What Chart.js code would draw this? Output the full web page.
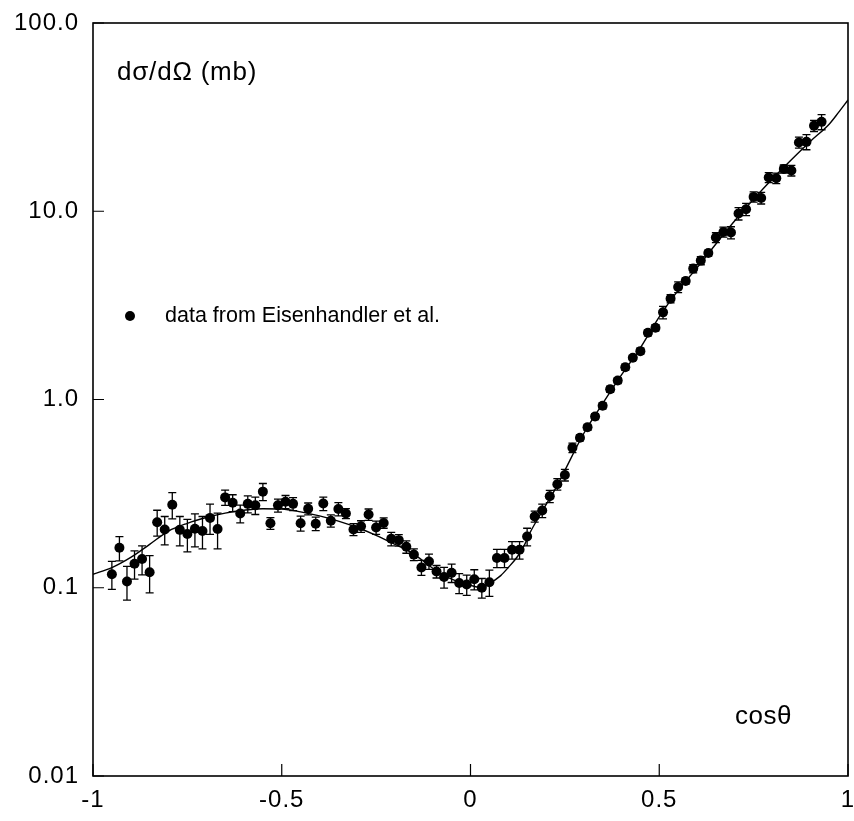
<!DOCTYPE html>
<html>
<head>
<meta charset="utf-8">
<title>dsigma/dOmega vs cos theta</title>
<script src="https://cdn.jsdelivr.net/npm/chart.js@4/dist/chart.umd.min.js"></script>
<style>
	html, body {margin: 0; padding: 0; background: #fff;}
	#wrap {position: relative; width: 854px; height: 821px;}
</style>
</head>
<body>
<div id="wrap"><canvas id="xsec" width="854" height="821"></canvas></div>
<script>
// measured points (Eisenhandler et al.)
var cosTheta = [
	-0.95, -0.93, -0.91, -0.89, -0.87, -0.85, -0.83, -0.81, -0.79, -0.77,
	-0.75, -0.73, -0.71, -0.69, -0.67, -0.65, -0.63, -0.61, -0.59, -0.57,
	-0.55, -0.53, -0.51, -0.49, -0.47, -0.45, -0.43, -0.41, -0.39, -0.37,
	-0.35, -0.33, -0.31, -0.29, -0.27, -0.25, -0.23, -0.21, -0.19, -0.17,
	-0.15, -0.13, -0.11, -0.09, -0.07, -0.05, -0.03, -0.01,  0.01,  0.03,
	 0.05,  0.07,  0.09,  0.11,  0.13,  0.15,  0.17,  0.19,  0.21,  0.23,
	 0.25,  0.27,  0.29,  0.31,  0.33,  0.35,  0.37,  0.39,  0.41,  0.43,
	 0.45,  0.47,  0.49,  0.51,  0.53,  0.55,  0.57,  0.59,  0.61,  0.63,
	 0.65,  0.67,  0.69,  0.71,  0.73,  0.75,  0.77,  0.79,  0.81,  0.83,
	 0.85,  0.87,  0.89,  0.91,  0.93
];
var dsdo = [
	0.118, 0.163, 0.108, 0.134, 0.142, 0.121, 0.223, 0.204, 0.276, 0.203,
	0.193, 0.206, 0.200, 0.235, 0.205, 0.302, 0.283, 0.248, 0.279, 0.274,
	0.324, 0.220, 0.274, 0.286, 0.279, 0.220, 0.263, 0.219, 0.280, 0.227,
	0.262, 0.248, 0.204, 0.212, 0.245, 0.209, 0.221, 0.182, 0.179, 0.165,
	0.150, 0.128, 0.138, 0.122, 0.114, 0.120, 0.106, 0.104, 0.111, 0.100,
	0.107, 0.144, 0.144, 0.159, 0.159, 0.187, 0.239, 0.257, 0.306, 0.355,
	0.397, 0.554, 0.626, 0.712, 0.812, 0.926, 1.134, 1.262, 1.485, 1.667,
	1.807, 2.263, 2.406, 2.903, 3.433, 3.957, 4.259, 4.958, 5.467, 5.999,
	7.246, 7.762, 7.705, 9.723, 10.25, 11.92, 11.77, 15.11, 14.98, 16.79,
	16.46, 23.20, 23.37, 28.43, 29.85
];
var dsdoErr = [
	0.020, 0.024, 0.022, 0.023, 0.025, 0.027, 0.035, 0.035, 0.044, 0.036,
	0.038, 0.041, 0.039, 0.043, 0.044, 0.028, 0.029, 0.027, 0.029, 0.029,
	0.034, 0.016, 0.022, 0.023, 0.022, 0.020, 0.019, 0.018, 0.023, 0.017,
	0.021, 0.015, 0.015, 0.015, 0.017, 0.017, 0.014, 0.015, 0.0125, 0.0125,
	0.0107, 0.0117, 0.0127, 0.0093, 0.0144, 0.0134, 0.013, 0.0128, 0.0136, 0.012,
	0.017, 0.016, 0.016, 0.017, 0.017, 0.020, 0.016, 0.021, 0.023, 0.025,
	0.028, 0.032, 0.023, 0.026, 0.030, 0.034, 0.042, 0.046, 0.055, 0.041,
	0.066, 0.083, 0.090, 0.22, 0.17, 0.26, 0.16, 0.25, 0.27, 0.22,
	0.44, 0.47, 0.57, 0.74, 0.76, 0.75, 0.84, 0.92, 0.96, 0.86,
	1.07, 1.56, 2.15, 1.91, 2.75
];

// model curve
var curveX = [
	-1.0, -0.95, -0.9, -0.85, -0.8, -0.75, -0.7, -0.65, -0.6, -0.55,
	-0.5, -0.45, -0.4, -0.35, -0.3, -0.25, -0.2, -0.15, -0.1, -0.05,
	 0.0,  0.03, 0.05, 0.08, 0.1, 0.125, 0.143, 0.157, 0.19, 0.23,
	 0.25, 0.3, 0.35, 0.4, 0.45, 0.5, 0.55, 0.6, 0.65, 0.7,
	 0.75, 0.8, 0.85, 0.9, 0.95, 0.975, 1.0
];
var curveY = [
	0.118, 0.128, 0.145, 0.170, 0.200, 0.220, 0.236, 0.249, 0.258, 0.263,
	0.262, 0.253, 0.241, 0.226, 0.209, 0.190, 0.170, 0.151, 0.127, 0.111,
	0.103, 0.100, 0.105, 0.116, 0.128, 0.147, 0.169, 0.195, 0.255, 0.350,
	0.42, 0.66, 0.95, 1.35, 1.88, 2.75, 3.8, 5.0, 6.7, 8.9,
	11.6, 14.9, 18.8, 23.5, 29.0, 33.5, 39.0
];

// axes
var xTickValues = [-1, -0.5, 0, 0.5, 1];
var xTickLabels = ['-1', '-0.5', '0', '0.5', '1'];
var yTickValues = [0.01, 0.1, 1, 10, 100];
var yTickLabels = ['0.01', '0.1', '1.0', '10.0', '100.0'];

var FONT = "'Liberation Sans', Arial, Helvetica, sans-serif";

function toPoints(xs, ys) {
	var pts = [];
	for (var ct = 0; ct < xs.length; ct++) {pts.push({x: xs[ct], y: ys[ct]});}
	return pts;
}

function noEdgePadding(scale) {
	scale.paddingLeft = scale.paddingRight = scale.paddingTop = scale.paddingBottom = 0;
}

// box, inward ticks, error bars and the labels inside the frame
var framePlugin = {
	id: 'frame',
	beforeDraw: function(chart) {
		chart.ctx.letterSpacing = '1px';
	},
	beforeDatasetsDraw: function(chart) {
		var ctx = chart.ctx, xs = chart.scales.x, ys = chart.scales.y;
		ctx.save();
		ctx.strokeStyle = '#000';
		ctx.lineWidth   = 1.3;
		for (var ct = 0; ct < dsdo.length; ct++) {
			var px  = xs.getPixelForValue(cosTheta[ct]);
			var top = ys.getPixelForValue(dsdo[ct] + dsdoErr[ct]);
			var bot = ys.getPixelForValue(dsdo[ct] - dsdoErr[ct]);
			ctx.beginPath();
			ctx.moveTo(px, top);     ctx.lineTo(px, bot);
			ctx.moveTo(px - 4, top); ctx.lineTo(px + 4, top);
			ctx.moveTo(px - 4, bot); ctx.lineTo(px + 4, bot);
			ctx.stroke();
		}
		ctx.restore();
	},
	afterDraw: function(chart) {
		var ctx = chart.ctx, a = chart.chartArea, xs = chart.scales.x, ys = chart.scales.y;
		ctx.save();
		ctx.strokeStyle = '#000';
		ctx.lineWidth   = 1.6;
		ctx.strokeRect(a.left, a.top, a.right - a.left, a.bottom - a.top);

		ctx.lineWidth = 1.2;
		ctx.beginPath();
		xTickValues.forEach(function(v) {
			var px = xs.getPixelForValue(v);
			ctx.moveTo(px, a.bottom); ctx.lineTo(px, a.bottom - 12);
		});
		yTickValues.forEach(function(v) {
			var py = ys.getPixelForValue(v);
			ctx.moveTo(a.left, py); ctx.lineTo(a.left + 11, py);
		});
		ctx.stroke();

		ctx.fillStyle    = '#000';
		ctx.textBaseline = 'middle';
		ctx.textAlign    = 'left';
		ctx.letterSpacing = '0.8px';
		ctx.font = '26px ' + FONT;
		ctx.fillText('d\u03c3/d\u03a9 (mb)', a.left + 24, a.top + 50);
		ctx.letterSpacing = '0.5px';
		ctx.fillText('cos\u03b8', a.left + 642, a.top + 694);

		ctx.letterSpacing = '0px';
		ctx.font = '21.5px ' + FONT;
		ctx.fillText('data from Eisenhandler et al.', a.left + 72, a.top + 293);
		ctx.beginPath();
		ctx.arc(a.left + 37, a.top + 293, 5, 0, Math.PI * 2);
		ctx.fill();
		ctx.restore();
	}
};

var ctx = document.getElementById('xsec').getContext('2d');
var chart = new Chart(ctx, {
	type: 'scatter',
	data: {
		datasets: [
			{
				label:           'model',
				data:            toPoints(curveX, curveY),
				showLine:        true,
				borderColor:     '#000',
				borderWidth:     1.4,
				pointRadius:     0,
				cubicInterpolationMode: 'monotone',
				order:           2
			},
			{
				label:           'data from Eisenhandler et al.',
				data:            toPoints(cosTheta, dsdo),
				backgroundColor: '#000',
				borderColor:     '#000',
				pointRadius:     5,
				pointBorderWidth: 0,
				order:           1
			}
		]
	},
	options: {
		responsive: false,
		animation:  false,
		layout: {padding: {top: 23, right: 6, left: 0, bottom: 0}},
		plugins: {
			legend:  {display: false},
			tooltip: {enabled: false}
		},
		scales: {
			x: {
				type: 'linear',
				min:  -1,
				max:  1,
				grid:   {display: false, drawTicks: false},
				border: {display: false},
				afterBuildTicks: function(scale) {scale.ticks = xTickValues.map(function(v) {return {value: v};});},
				afterFit: function(scale) {scale.height = 45; noEdgePadding(scale);},
				ticks: {
					color:    '#000',
					padding:  10,
					maxRotation: 0,
					autoSkip: false,
					font:     {family: FONT, size: 24},
					callback: function(value, index) {return xTickLabels[index];}
				}
			},
			y: {
				type: 'logarithmic',
				min:  0.01,
				max:  100,
				grid:   {display: false, drawTicks: false},
				border: {display: false},
				afterBuildTicks: function(scale) {scale.ticks = yTickValues.map(function(v) {return {value: v};});},
				afterFit: function(scale) {scale.width = 93; noEdgePadding(scale);},
				ticks: {
					color:    '#000',
					padding:  14,
					autoSkip: false,
					font:     {family: FONT, size: 24},
					callback: function(value, index) {return yTickLabels[index];}
				}
			}
		}
	},
	plugins: [framePlugin]
});
</script>
</body>
</html>
